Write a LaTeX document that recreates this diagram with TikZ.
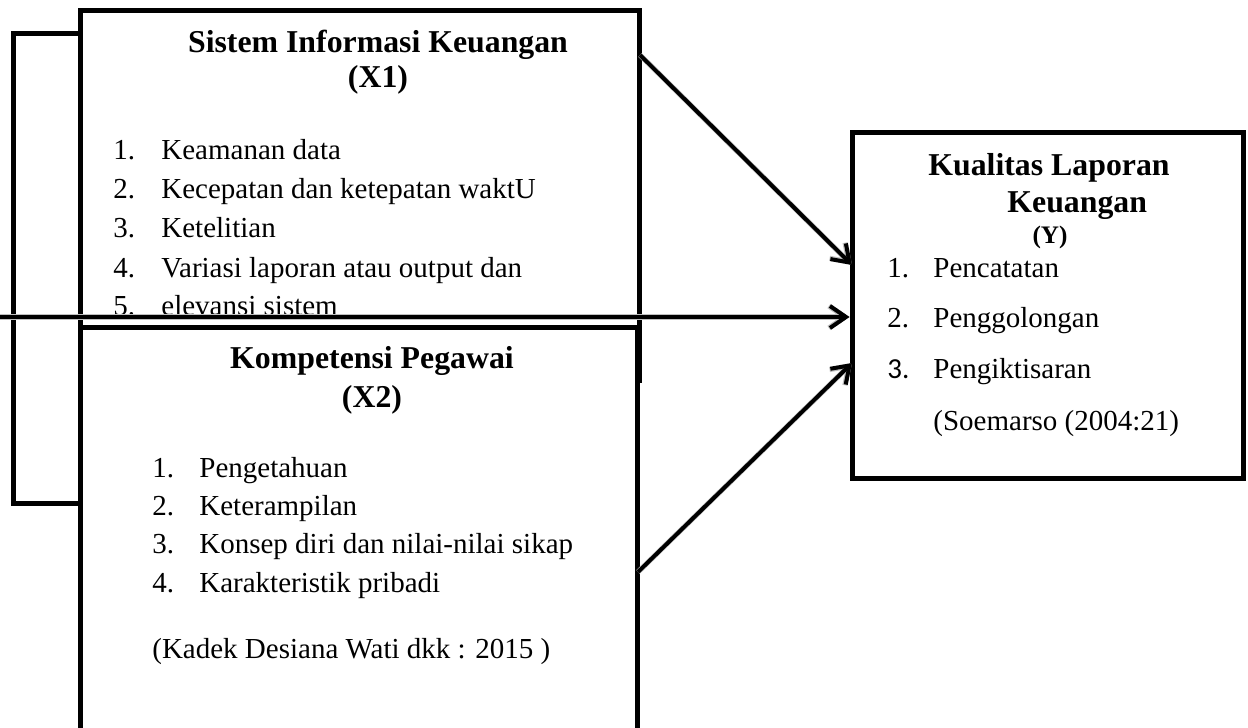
\documentclass[tikz,border=0pt]{standalone}
\usepackage{fontspec}
\setmainfont{Liberation Serif}
\newfontfamily\calib{Carlito}
\usetikzlibrary{arrows.meta}
\tikzset{
  box/.style={draw=black, fill=white, line width=2.5pt, inner sep=0pt},
  conn/.style={line width=2pt, -{Straight Barb[length=8pt,width=11pt]}},
  shade/.style={line width=2.6pt, draw=black!25, shift={(1.5,2.5)}, -{Straight Barb[length=8pt,width=11pt]}},
  ttl/.style={anchor=base, inner sep=0pt, font=\fontsize{15.9}{19}\selectfont\bfseries},
  sml/.style={anchor=base, inner sep=0pt, font=\fontsize{12.6}{15}\selectfont\bfseries},
  lst/.style={anchor=base west, inner sep=0pt, font=\fontsize{14.5}{17}\selectfont},
}
\begin{document}
\begin{tikzpicture}[x=0.5pt,y=-0.5pt]
\clip (0,0) rectangle (1248,728);
\fill[white] (0,0) rectangle (1248,728);

% X1 box
\node[box, minimum width=279.5pt, minimum height=185pt] (x1) at (360,195) {};
% bracket
\coordinate (bt) at (13,33);
\coordinate (bb) at (13,503);
\draw[line width=2.5pt, line join=miter] (x1.west |- bt) -- (bt) -- (bb) -- (80,503);

\node[ttl] (x1t) at (378,52) {Sistem Informasi Keuangan};
\node[ttl] (x1s) at (378,87) {(X1)};
\node[lst] (x1n1) at (113,159) {1.};
\node[lst] (x1i1) at (161,159) {Keamanan data};
\node[lst] (x1n2) at (113,198) {2.};
\node[lst] (x1i2) at (161,198) {Kecepatan dan ketepatan waktU};
\node[lst] (x1n3) at (113,237) {3.};
\node[lst] (x1i3) at (161,237) {Ketelitian};
\node[lst] (x1n4) at (113,277) {4.};
\node[lst] (x1i4) at (161,277) {Variasi laporan atau output dan};
\node[lst] (x1n5) at (113,315) {5.};
\node[lst] (x1i5) at (161,315) {elevansi sistem};

% X2 box
\node[box, minimum width=278.5pt, minimum height=216.5pt] (x2) at (358.5,543.5) {};
\node[ttl] (x2t) at (372,368) {Kompetensi Pegawai};
\node[ttl] (x2s) at (372,407) {(X2)};
\node[lst] (x2n1) at (152,477) {1.};
\node[lst] (x2i1) at (199,477) {Pengetahuan};
\node[lst] (x2n2) at (152,515) {2.};
\node[lst] (x2i2) at (199,515) {Keterampilan};
\node[lst] (x2n3) at (152,553) {3.};
\node[lst] (x2i3) at (199,553) {Konsep diri dan nilai-nilai sikap};
\node[lst] (x2n4) at (152,592) {4.};
\node[lst] (x2i4) at (199,592) {Karakteristik pribadi};
\node[lst] (x2r) at (152,658) {(Kadek Desiana Wati dkk : 2015 )};

% Y box
\node[box, minimum width=195.5pt, minimum height=173pt] (y) at (1047.5,305) {};
\node[ttl] (yt1) at (1049,175) {Kualitas Laporan};
\node[ttl, anchor=base west] (yt2) at (1007,212) {Keuangan};
\node[sml] (ys) at (1050,243) {(Y)};
\node[lst] (yn1) at (887,277) {1.};
\node[lst] (yi1) at (933,277) {Pencatatan};
\node[lst] (yn2) at (887,327) {2.};
\node[lst] (yi2) at (933,327) {Penggolongan};
\node[lst, font=\fontsize{14.5}{17}\selectfont\calib] (yn3) at (887,378) {3.};
\node[lst] (yi3) at (933,378) {Pengiktisaran};
\node[lst] (yr) at (933,430) {(Soemarso (2004:21)};

% connectors
\coordinate (a1s) at (640,55);
\coordinate (a1e) at (852,265);
\coordinate (hs) at (0,317);
\coordinate (a2s) at (638,572);
\coordinate (a2e) at (852,363);

\draw[shade] (hs) -- (hs -| y.west);
\draw[shade] (a1s) -- (a1e);
\draw[shade] (a2s) -- (a2e);
\draw[conn] (hs) -- (hs -| y.west);
\draw[conn] (a1s) -- (a1e);
\draw[conn] (a2s) -- (a2e);
\end{tikzpicture}
\end{document}
